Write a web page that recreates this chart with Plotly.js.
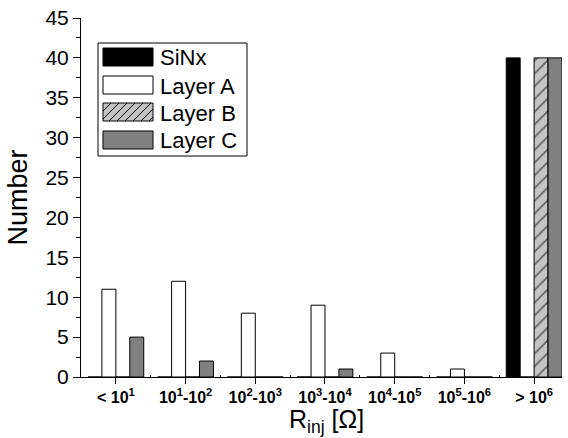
<!DOCTYPE html>
<html>
<head>
<meta charset="utf-8">
<script src="https://cdn.plot.ly/plotly-3.0.1.min.js"></script>
<style>html,body{margin:0;padding:0;background:#fff;}#chart{width:568px;height:438px;}</style>
</head>
<body>
<div id="chart"></div>
<script>
// ---- data ----
const categories = ["< 10^1", "10^1-10^2", "10^2-10^3", "10^3-10^4", "10^4-10^5", "10^5-10^6", "> 10^6"];
const tickLabels = ["&lt; 10<sup>1</sup>", "10<sup>1</sup>-10<sup>2</sup>", "10<sup>2</sup>-10<sup>3</sup>",
  "10<sup>3</sup>-10<sup>4</sup>", "10<sup>4</sup>-10<sup>5</sup>", "10<sup>5</sup>-10<sup>6</sup>", "&gt; 10<sup>6</sup>"];
const seriesNames = ["SiNx", "Layer A", "Layer B", "Layer C"];
const sinx   = [0, 0, 0, 0, 0, 0, 40];
const layerA = [11, 12, 8, 9, 3, 1, 0];
const layerB = [0, 0, 0, 0, 0, 0, 40];
const layerC = [5, 2, 0, 1, 0, 0, 40];
const xTitle = "R<sub>inj</sub> [Ω]";
const yTitle = "Number";

const FONT = "Arial, 'Liberation Sans', sans-serif";
const idx = categories.map((_, i) => i);
const minorIdx = idx.slice(0, -1).map(i => i + 0.5);

const line = {color: "#000", width: 1};
const traces = [
  {type: "bar", name: seriesNames[0], x: idx, y: sinx, marker: {color: "#000", line: line}},
  {type: "bar", name: seriesNames[1], x: idx, y: layerA, marker: {color: "#fff", line: line}},
  {type: "bar", name: seriesNames[2], x: idx, y: layerB, marker: {color: "#c4c4c4", line: line,
     pattern: {shape: "/", fillmode: "overlay", fgcolor: "#000", bgcolor: "#c4c4c4", size: 9, solidity: 0.18}}},
  {type: "bar", name: seriesNames[3], x: idx, y: layerC, marker: {color: "#808080", line: line}}
];
traces.forEach(t => { t.showlegend = false; t.hoverinfo = "skip"; });

// plot-area pixel geometry -> paper coordinates (for the custom legend / title)
const L = 81, R = 6, T = 18, B = 61, W = 568, H = 438;
const pw = W - L - R, ph = H - T - B;
const px = x => (x - L) / pw;
const py = y => 1 - (y - T) / ph;

const shapes = [];
const annotations = [];
// legend box
shapes.push({type: "rect", xref: "paper", yref: "paper", x0: px(98), x1: px(247), y0: py(156), y1: py(43),
  line: {color: "#000", width: 1}, fillcolor: "#fff", layer: "above"});
const swFill = ["#000", "#fff", "#c4c4c4", "#808080"];
const swTop = [48, 76, 103, 131];
const swH = 18, swL = 103, swR = 153;
seriesNames.forEach((n, i) => {
  const y0 = swTop[i], y1 = swTop[i] + swH;
  shapes.push({type: "rect", xref: "paper", yref: "paper", x0: px(swL), x1: px(swR), y0: py(y1), y1: py(y0),
    line: {color: "#000", width: 1}, fillcolor: swFill[i], layer: "above"});
  if (i === 2) {
    // hatch lines "/"
    for (let c = swL - swH; c < swR; c += 8) {
      const s0 = Math.max(0, swL - c), s1 = Math.min(swH, swR - c);
      if (s1 <= s0) continue;
      shapes.push({type: "line", xref: "paper", yref: "paper",
        x0: px(c + s0), y0: py(y1 - s0), x1: px(c + s1), y1: py(y1 - s1),
        line: {color: "#000", width: 1}, layer: "above"});
    }
  }
  annotations.push({xref: "paper", yref: "paper", x: px(158), y: py((y0 + y1) / 2 + 1), xanchor: "left", yanchor: "middle",
    text: n, showarrow: false, font: {family: FONT, size: 22, color: "#000"}});
});
// x-axis title, sitting on the bottom edge of the page
annotations.push({xref: "paper", yref: "paper", x: px(326), y: py(H), xanchor: "center", yanchor: "bottom",
  text: xTitle, showarrow: false, borderpad: 0, font: {family: FONT, size: 25, color: "#000"}});

const axBase = {showgrid: false, zeroline: false, linecolor: "#000", linewidth: 1, tickcolor: "#000", tickwidth: 1};
const layout = {
  width: W, height: H,
  margin: {l: L, r: R, t: T, b: B, pad: 0},
  paper_bgcolor: "#fff", plot_bgcolor: "#fff",
  barmode: "group", bargap: 0.2, bargroupgap: 0,
  showlegend: false,
  font: {family: FONT, color: "#000"},
  xaxis: Object.assign({}, axBase, {
    range: [-0.5, 6.4], tickmode: "array", tickvals: idx, ticktext: tickLabels,
    ticks: "outside", ticklen: 6, showline: true,
    tickfont: {family: FONT, size: 16, weight: "bold", color: "#000"},
    minor: {tickmode: "array", tickvals: minorIdx, ticks: "inside", ticklen: 2, tickcolor: "#000"},
    automargin: false
  }),
  xaxis2: Object.assign({}, axBase, {
    overlaying: "x", side: "top", anchor: "y", range: [-0.5, 6.4], tickmode: "array", tickvals: idx,
    ticks: "inside", ticklen: 6, showticklabels: false, showline: true,
    minor: {tickmode: "array", tickvals: minorIdx, ticks: "inside", ticklen: 5, tickcolor: "#000"}
  }),
  xaxis3: Object.assign({}, axBase, {
    overlaying: "x", side: "bottom", anchor: "y", range: [-0.5, 6.4], tickmode: "array", tickvals: idx,
    ticks: "inside", ticklen: 3, showticklabels: false, showline: false
  }),
  yaxis: Object.assign({}, axBase, {
    range: [0, 45], tickmode: "linear", tick0: 0, dtick: 5,
    ticks: "outside", ticklen: 7, showline: true,
    tickfont: {family: FONT, size: 21, color: "#000"},
    minor: {tick0: 0, dtick: 2.5, ticks: "outside", ticklen: 4, tickcolor: "#000"},
    title: {text: yTitle, font: {family: FONT, size: 27, color: "#000"}, standoff: 9},
    automargin: false
  }),
  yaxis2: Object.assign({}, axBase, {
    overlaying: "y", side: "right", anchor: "x", range: [0, 45], tickmode: "linear", tick0: 0, dtick: 5,
    ticks: "outside", ticklen: 6, showticklabels: false, showline: true,
    minor: {tick0: 0, dtick: 2.5, ticks: "outside", ticklen: 4, tickcolor: "#000"}
  }),
  yaxis3: Object.assign({}, axBase, {
    overlaying: "y", side: "right", anchor: "x", range: [0, 45], tickmode: "linear", tick0: 0, dtick: 5,
    ticks: "inside", ticklen: 3, showticklabels: false, showline: false
  }),
  shapes: shapes,
  annotations: annotations
};

Plotly.newPlot("chart", traces, layout, {displayModeBar: false, staticPlot: true});
</script>
</body>
</html>
